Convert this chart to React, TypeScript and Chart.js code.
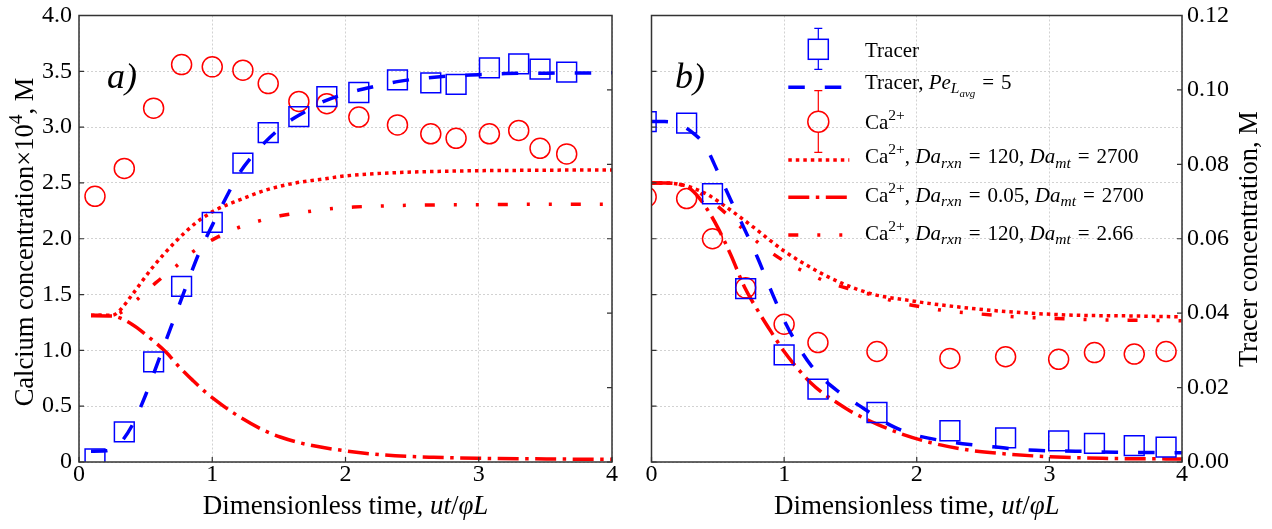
import React, { useEffect, useRef } from "react";
import { Chart, registerables } from "chart.js";

Chart.register(...registerables);

const FONT = "'Liberation Serif', 'Times New Roman', serif";
const RED = "#ff0000";
const BLUE = "#0000ff";

// axis ticks
const xTickStep = 1;
const calciumTickStep = 0.5;
const tracerTickStep = 0.02;

// ---------- Panel a) ----------
const timeA = [0.12, 0.34, 0.56, 0.77, 1.0, 1.23, 1.42, 1.65, 1.86, 2.1, 2.39, 2.64, 2.83, 3.08, 3.3, 3.46, 3.66];
const calciumA = [2.38, 2.63, 3.17, 3.56, 3.54, 3.51, 3.39, 3.23, 3.21, 3.09, 3.02, 2.94, 2.9, 2.94, 2.97, 2.81, 2.76];
const tracerA = [0.0008, 0.0081, 0.0269, 0.0472, 0.0644, 0.0803, 0.0885, 0.0928, 0.0982, 0.0993, 0.1027, 0.1019, 0.1015, 0.1059, 0.107, 0.1056, 0.1048];

const fitTracerTimeA = [0.09, 0.2, 0.3, 0.4, 0.5, 0.6, 0.7, 0.8, 0.9, 1.0, 1.1, 1.2, 1.3, 1.4, 1.5, 1.6, 1.7, 1.8, 1.9, 2.0, 2.2, 2.4, 2.6, 2.8, 3.0, 3.2, 3.5, 4.0];
const fitTracerA = [0.0029, 0.003, 0.0048, 0.0099, 0.018, 0.0276, 0.0372, 0.0468, 0.0561, 0.0636, 0.0708, 0.0774, 0.0822, 0.0861, 0.0894, 0.0921, 0.0942, 0.0963, 0.0978, 0.099, 0.1008, 0.1023, 0.1032, 0.1038, 0.1041, 0.1044, 0.1045, 0.1046];

const fitDotTimeA = [0.09, 0.25, 0.3, 0.4, 0.55, 0.725, 0.875, 1.025, 1.2, 1.4, 1.625, 1.85, 2.0, 2.4, 2.9, 3.5, 4.0];
const fitDotA = [1.314, 1.314, 1.35, 1.5, 1.74, 1.975, 2.14, 2.257, 2.346, 2.435, 2.5, 2.538, 2.563, 2.593, 2.608, 2.614, 2.617];

const fitDashDotTimeA = [0.09, 0.25, 0.379, 0.543, 0.656, 0.756, 0.857, 0.945, 1.007, 1.158, 1.359, 1.51, 1.7, 1.985, 2.285, 2.66, 3.035, 3.54, 4.0];
const fitDashDotA = [1.31, 1.307, 1.248, 1.1, 0.98, 0.847, 0.728, 0.63, 0.57, 0.44, 0.3, 0.224, 0.16, 0.102, 0.063, 0.042, 0.033, 0.027, 0.024];

const fitDashDotDotTimeA = [0.09, 0.25, 0.3, 0.437, 0.575, 0.725, 0.85, 1.0, 1.175, 1.325, 1.51, 1.7, 1.86, 2.06, 2.25, 2.6, 2.95, 3.3, 4.0];
const fitDashDotDotA = [1.314, 1.314, 1.33, 1.456, 1.604, 1.75, 1.88, 1.99, 2.09, 2.15, 2.206, 2.24, 2.265, 2.284, 2.293, 2.302, 2.305, 2.308, 2.31];

// ---------- Panel b) ----------
const timeB = [-0.04, 0.265, 0.46, 0.71, 1.0, 1.255, 1.7, 2.25, 2.67, 3.07, 3.34, 3.64, 3.88];
const calciumB = [2.375, 2.36, 2.0, 1.56, 1.234, 1.07, 0.99, 0.928, 0.943, 0.92, 0.98, 0.967, 0.99];
const tracerB = [0.0915, 0.0911, 0.0721, 0.0466, 0.0288, 0.0196, 0.0133, 0.0084, 0.0065, 0.0057, 0.005, 0.0044, 0.004];

const fitTracerTimeB = [0, 0.1, 0.2, 0.3, 0.4, 0.5, 0.6, 0.7, 0.8, 0.9, 1.0, 1.1, 1.2, 1.3, 1.4, 1.5, 1.6, 1.7, 1.8, 1.9, 2.0, 2.2, 2.4, 2.6, 2.8, 3.0, 3.2, 3.5, 4.0];
const fitTracerB = [0.0915, 0.0915, 0.0909, 0.0888, 0.0852, 0.078, 0.0702, 0.0627, 0.0549, 0.0462, 0.0381, 0.0315, 0.0261, 0.0222, 0.0192, 0.0167, 0.0144, 0.012, 0.0099, 0.0083, 0.0071, 0.0057, 0.0047, 0.004, 0.0033, 0.003, 0.0029, 0.0026, 0.0025];

const fitDotTimeB = [0, 0.1, 0.2, 0.3, 0.43, 0.63, 0.78, 1.0, 1.23, 1.43, 1.68, 1.9, 2.13, 2.63, 3.14, 3.64, 4.0];
const fitDotB = [2.5, 2.5, 2.49, 2.46, 2.39, 2.227, 2.093, 1.89, 1.723, 1.604, 1.5, 1.455, 1.415, 1.352, 1.317, 1.308, 1.3];

const fitDashDotTimeB = [0, 0.1, 0.2, 0.3, 0.4, 0.5, 0.6, 0.7, 0.8, 0.9, 1.0, 1.1, 1.2, 1.3, 1.4, 1.5, 1.7, 1.9, 2.1, 2.4, 2.7, 3.0, 3.4, 4.0];
const fitDashDotB = [2.5, 2.5, 2.49, 2.44, 2.3, 2.1, 1.85, 1.57, 1.36, 1.17, 0.99, 0.84, 0.71, 0.61, 0.53, 0.455, 0.34, 0.245, 0.175, 0.105, 0.07, 0.047, 0.033, 0.027];

const fitDashDotDotTimeB = [0, 0.2, 0.35, 0.5, 0.65, 0.8, 1.0, 1.18, 1.33, 1.51, 1.7, 1.86, 2.03, 2.22, 2.39, 2.57, 2.76, 2.94, 3.11, 3.31, 3.66, 4.0];
const fitDashDotDotB = [2.5, 2.49, 2.42, 2.29, 2.13, 1.97, 1.8, 1.69, 1.61, 1.545, 1.486, 1.43, 1.39, 1.355, 1.335, 1.317, 1.3, 1.29, 1.283, 1.275, 1.27, 1.265];

// line styles
const DASH_TRACER = [16.5, 20];
const DASH_DOT = [3.5, 4];
const DASH_DASHDOT = [21, 6.5, 3.5, 6.5];
const DASH_DASHDOTDOT = [10, 19, 3, 19, 3, 19];

type Seg = { t: string; it?: boolean; lvl?: number };

function segSize(base: number, lvl = 0) {
  return lvl === 0 ? base : lvl === -2 ? base * 0.52 : base * 0.74;
}
function segDy(base: number, lvl = 0) {
  if (lvl === 1) return -0.42 * base;
  if (lvl === -1) return 0.2 * base;
  if (lvl === -2) return 0.38 * base;
  return 0;
}
function setFont(ctx: CanvasRenderingContext2D, s: Seg, base: number) {
  ctx.font = `${s.it ? "italic " : ""}${segSize(base, s.lvl || 0)}px ${FONT}`;
}
function richWidth(ctx: CanvasRenderingContext2D, segs: Seg[], base: number) {
  let w = 0;
  for (const s of segs) {
    setFont(ctx, s, base);
    w += ctx.measureText(s.t).width;
  }
  return w;
}
function drawRich(ctx: CanvasRenderingContext2D, segs: Seg[], x: number, y: number, base: number, align = "left") {
  let cx = align === "center" ? x - richWidth(ctx, segs, base) / 2 : x;
  ctx.textAlign = "left";
  ctx.textBaseline = "alphabetic";
  ctx.fillStyle = "#000";
  for (const s of segs) {
    setFont(ctx, s, base);
    ctx.fillText(s.t, cx, y + segDy(base, s.lvl || 0));
    cx += ctx.measureText(s.t).width;
  }
}

const EQ = "\u2004=\u2004";
const xTitle: Seg[] = [{ t: "Dimensionless time, " }, { t: "ut", it: true }, { t: "/" }, { t: "φL", it: true }];
const caTitle: Seg[] = [{ t: "Calcium concentration×10" }, { t: "4", lvl: 1 }, { t: ", M" }];
const trTitle: Seg[] = [{ t: "Tracer concentration, M" }];

const ca: Seg[] = [{ t: "Ca" }, { t: "2+", lvl: 1 }];
const da = (rxn: string, mt: string): Seg[] => [
  ...ca,
  { t: ", " },
  { t: "Da", it: true },
  { t: "rxn", it: true, lvl: -1 },
  { t: `${EQ}${rxn}, ` },
  { t: "Da", it: true },
  { t: "mt", it: true, lvl: -1 },
  { t: `${EQ}${mt}` },
];
const legendRows: Seg[][] = [
  [{ t: "Tracer" }],
  [{ t: "Tracer, " }, { t: "Pe", it: true }, { t: "L", it: true, lvl: -1 }, { t: "avg", it: true, lvl: -2 }, { t: `${EQ}5` }],
  ca,
  da("120", "2700"),
  da("0.05", "2700"),
  da("120", "2.66"),
];

function pts(xs: number[], ys: number[]) {
  return xs.map((x, i) => ({ x, y: ys[i] }));
}

function lineDs(xs: number[], ys: number[], color: string, dash: number[], axis: string) {
  return {
    data: pts(xs, ys),
    showLine: true,
    borderColor: color,
    borderWidth: 3.5,
    borderDash: dash,
    pointRadius: 0,
    cubicInterpolationMode: "monotone",
    yAxisID: axis,
    clip: 0,
  };
}
function markerDs(xs: number[], ys: number[], color: string, style: string, r: number, axis: string) {
  return {
    data: pts(xs, ys),
    showLine: false,
    pointStyle: style,
    pointRadius: r,
    pointBorderWidth: 1.5,
    pointBorderColor: color,
    pointBackgroundColor: "rgba(0,0,0,0)",
    borderColor: color,
    backgroundColor: "rgba(0,0,0,0)",
    yAxisID: axis,
    clip: 0,
  };
}

function makeChart(canvas: HTMLCanvasElement, which: "a" | "b") {
  const isA = which === "a";
  const offset = isA ? 0 : 636;
  const datasets = isA
    ? [
        markerDs(timeA, tracerA, BLUE, "rect", 14, "y1"),
        lineDs(fitTracerTimeA, fitTracerA, BLUE, DASH_TRACER, "y1"),
        markerDs(timeA, calciumA, RED, "circle", 10, "y"),
        lineDs(fitDotTimeA, fitDotA, RED, DASH_DOT, "y"),
        lineDs(fitDashDotTimeA, fitDashDotA, RED, DASH_DASHDOT, "y"),
        lineDs(fitDashDotDotTimeA, fitDashDotDotA, RED, DASH_DASHDOTDOT, "y"),
      ]
    : [
        markerDs(timeB, tracerB, BLUE, "rect", 14, "y1"),
        lineDs(fitTracerTimeB, fitTracerB, BLUE, DASH_TRACER, "y1"),
        markerDs(timeB, calciumB, RED, "circle", 10, "y"),
        lineDs(fitDotTimeB, fitDotB, RED, DASH_DOT, "y"),
        lineDs(fitDashDotTimeB, fitDashDotB, RED, DASH_DASHDOT, "y"),
        lineDs(fitDashDotDotTimeB, fitDashDotDotB, RED, DASH_DASHDOTDOT, "y"),
      ];

  const deco = {
    id: "deco",
    afterDraw(chart: any) {
      const ctx: CanvasRenderingContext2D = chart.ctx;
      const a = chart.chartArea;
      const { x, y, y1 } = chart.scales;
      ctx.save();
      // frame
      ctx.strokeStyle = "#333";
      ctx.lineWidth = 1.5;
      ctx.setLineDash([]);
      ctx.strokeRect(a.left, a.top, a.right - a.left, a.bottom - a.top);
      // inward ticks
      ctx.lineWidth = 1.2;
      ctx.beginPath();
      for (const t of y.ticks) {
        const p = y.getPixelForValue(t.value);
        ctx.moveTo(a.left, p);
        ctx.lineTo(a.left + 5, p);
      }
      for (const t of y1.ticks) {
        const p = y1.getPixelForValue(t.value);
        ctx.moveTo(a.right, p);
        ctx.lineTo(a.right - 5, p);
      }
      for (const t of x.ticks) {
        const p = x.getPixelForValue(t.value);
        ctx.moveTo(p, a.bottom);
        ctx.lineTo(p, a.bottom - 5);
      }
      ctx.stroke();

      // panel label
      ctx.font = `italic 36px ${FONT}`;
      ctx.fillStyle = "#000";
      ctx.textAlign = "left";
      ctx.textBaseline = "alphabetic";
      ctx.fillText(isA ? "a)" : "b)", isA ? 107 : 675 - offset, 88);

      // x title
      drawRich(ctx, xTitle, (a.left + a.right) / 2, 514, 27, "center");

      // y titles
      if (isA) {
        ctx.save();
        ctx.translate(33, 242);
        ctx.rotate(-Math.PI / 2);
        drawRich(ctx, caTitle, 0, 0, 26.5, "center");
        ctx.restore();
      } else {
        ctx.save();
        ctx.translate(1257 - offset, 239);
        ctx.rotate(-Math.PI / 2);
        drawRich(ctx, trTitle, 0, 0, 26.5, "center");
        ctx.restore();

        // legend
        const mx = 818.3 - offset;
        const lx1 = 788.3 - offset;
        const lx2 = 849.3 - offset;
        // tracer marker with error bar
        ctx.strokeStyle = BLUE;
        ctx.lineWidth = 1.5;
        ctx.setLineDash([]);
        ctx.strokeRect(mx - 10, 39.3, 20, 20);
        ctx.lineWidth = 1.2;
        ctx.beginPath();
        ctx.moveTo(mx, 28.3); ctx.lineTo(mx, 39.3);
        ctx.moveTo(mx, 59.3); ctx.lineTo(mx, 69.3);
        ctx.moveTo(mx - 4, 28.3); ctx.lineTo(mx + 4, 28.3);
        ctx.moveTo(mx - 4, 69.3); ctx.lineTo(mx + 4, 69.3);
        ctx.stroke();
        // Ca marker with error bar
        ctx.strokeStyle = RED;
        ctx.lineWidth = 1.5;
        ctx.beginPath();
        ctx.arc(mx, 121.7, 10.5, 0, Math.PI * 2);
        ctx.stroke();
        ctx.lineWidth = 1.2;
        ctx.beginPath();
        ctx.moveTo(mx, 90.7); ctx.lineTo(mx, 111.2);
        ctx.moveTo(mx, 132.2); ctx.lineTo(mx, 152.3);
        ctx.moveTo(mx - 4, 90.7); ctx.lineTo(mx + 4, 90.7);
        ctx.moveTo(mx - 4, 152.3); ctx.lineTo(mx + 4, 152.3);
        ctx.stroke();
        // line samples
        const sample = (yy: number, color: string, dash: number[]) => {
          ctx.strokeStyle = color;
          ctx.lineWidth = 3.5;
          ctx.setLineDash(dash);
          ctx.beginPath();
          ctx.moveTo(lx1, yy);
          ctx.lineTo(lx2, yy);
          ctx.stroke();
        };
        sample(87.3, BLUE, DASH_TRACER);
        sample(160, RED, DASH_DOT);
        sample(197.3, RED, DASH_DASHDOT);
        sample(235, RED, DASH_DASHDOTDOT);
        ctx.setLineDash([]);
        const baselines = [56.7, 89, 129.3, 163.3, 201.7, 240];
        legendRows.forEach((row, i) => drawRich(ctx, row, 865 - offset, baselines[i], 21, "left"));
      }
      ctx.restore();
    },
  };

  const xTickFont = { family: FONT, size: 24, lineHeight: 1 };
  const yTickFont = { family: FONT, size: 24, lineHeight: 0.4 };
  const gridCommon = { color: "#d2d2d2", lineWidth: 1, drawTicks: false };

  return new Chart(canvas, {
    type: "scatter",
    data: { datasets: datasets as any },
    options: {
      animation: false,
      responsive: false,
      maintainAspectRatio: false,
      events: [],
      layout: { padding: { top: 12, left: 0, right: 0, bottom: 0 } },
      plugins: { legend: { display: false }, tooltip: { enabled: false } },
      scales: {
        x: {
          type: "linear",
          position: "bottom",
          min: 0,
          max: 4,
          ticks: {
            stepSize: xTickStep,
            font: xTickFont,
            color: "#000",
            padding: 1,
            autoSkip: false,
            maxRotation: 0,
            callback: (v: any) => String(v),
          },
          grid: gridCommon,
          border: { display: false, dash: [2, 2] },
          afterFit: (s: any) => {
            s.height = 67;
          },
        },
        y: {
          type: "linear",
          position: "left",
          min: 0,
          max: 4,
          ticks: {
            display: isA,
            stepSize: calciumTickStep,
            font: yTickFont,
            color: "#000",
            padding: 7,
            autoSkip: false,
            callback: (v: any) => (Number(v) === 0 ? "0" : Number(v).toFixed(1)),
          },
          grid: gridCommon,
          border: { display: false, dash: [2, 2] },
          afterFit: (s: any) => {
            s.width = isA ? 79 : 13;
          },
        },
        y1: {
          type: "linear",
          position: "right",
          min: 0,
          max: 0.12,
          ticks: {
            display: !isA,
            stepSize: tracerTickStep,
            font: yTickFont,
            color: "#000",
            padding: 5,
            autoSkip: false,
            callback: (v: any) => Number(v).toFixed(2),
          },
          grid: { display: false, drawTicks: false },
          border: { display: false },
          afterFit: (s: any) => {
            s.width = isA ? 24 : 90;
          },
        },
      },
    } as any,
    plugins: [deco],
  });
}

export default function App() {
  const refA = useRef<HTMLCanvasElement>(null);
  const refB = useRef<HTMLCanvasElement>(null);
  useEffect(() => {
    const ca = makeChart(refA.current!, "a");
    const cb = makeChart(refB.current!, "b");
    return () => {
      ca.destroy();
      cb.destroy();
    };
  }, []);
  return (
    <div style={{ position: "fixed", left: 0, top: 0, width: 1272, height: 529, background: "#fff" }}>
      <canvas ref={refA} width={636} height={529} style={{ position: "absolute", left: 0, top: 0, width: 636, height: 529 }} />
      <canvas ref={refB} width={636} height={529} style={{ position: "absolute", left: 636, top: 0, width: 636, height: 529 }} />
    </div>
  );
}
